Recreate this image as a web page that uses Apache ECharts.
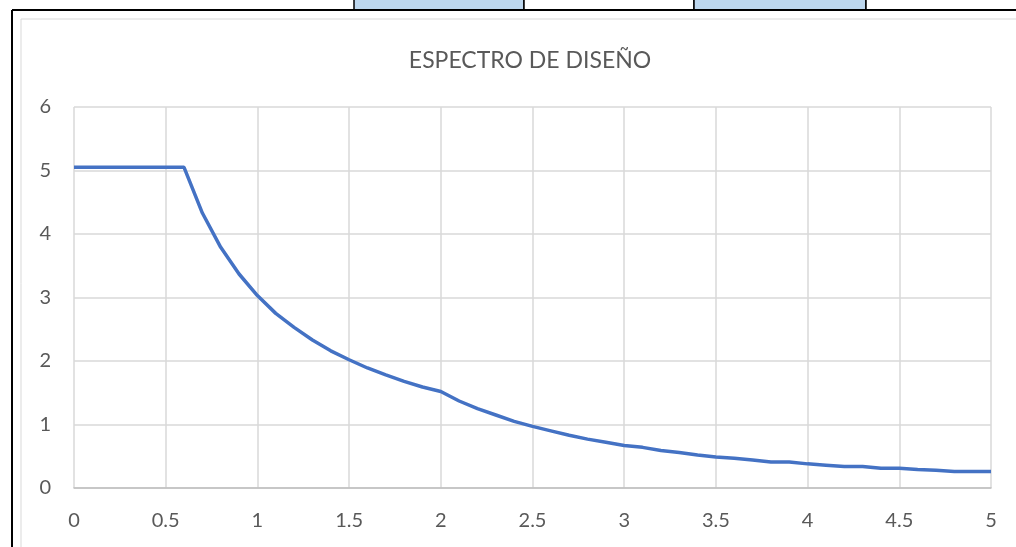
<!DOCTYPE html>
<html>
<head>
<meta charset="utf-8">
<script src="https://cdn.jsdelivr.net/npm/echarts@6/dist/echarts.min.js"></script>
<style>
html,body{margin:0;padding:0;background:#fff;}
#c{width:1016px;height:547px;}
</style>
</head>
<body>
<div id="c"></div>
<script>
const title = 'ESPECTRO DE DISEÑO';
const periods = [0,0.1,0.2,0.3,0.4,0.5,0.6,0.7,0.8,0.9,1.0,1.1,1.2,1.3,1.4,1.5,1.6,1.7,1.8,1.9,2.0,
  2.1,2.2,2.3,2.4,2.5,2.6,2.7,2.8,2.9,3.0,3.1,3.2,3.3,3.4,3.5,3.6,3.7,3.8,3.9,4.0,
  4.1,4.2,4.3,4.4,4.5,4.6,4.7,4.8,4.9,5.0];
const sa = [5.05,5.05,5.05,5.05,5.05,5.05,5.05,4.33,3.79,3.37,3.03,2.75,2.53,2.33,2.16,2.02,1.89,1.78,1.68,1.59,1.52,
  1.37,1.25,1.15,1.05,0.97,0.90,0.83,0.77,0.72,0.67,0.64,0.59,0.56,0.52,0.49,0.47,0.44,0.41,0.41,0.38,
  0.36,0.34,0.34,0.31,0.31,0.29,0.28,0.26,0.26,0.26];
const xTicks = {min:0, max:5, step:0.5};
const yTicks = {min:0, max:6, step:1};

const chart = echarts.init(document.getElementById('c'), null, {renderer:'canvas'});
const font = 'Lato, "Open Sans", "Noto Sans", sans-serif';
const lblColor = '#595959';
chart.setOption({
  animation:false,
  backgroundColor:'#fff',
  title:{
    text:title, left:525, top:44, textAlign:'center',
    textStyle:{fontFamily:font, fontSize:23, fontWeight:'normal', color:lblColor}
  },
  grid:{left:74, right:25, top:107, bottom:59, containLabel:false},
  xAxis:{
    type:'value', min:xTicks.min, max:xTicks.max, interval:xTicks.step,
    axisLine:{show:true, lineStyle:{color:'#BFBFBF', width:1.5}},
    axisTick:{show:false},
    splitLine:{show:true, lineStyle:{color:'#D9D9D9', width:1.5}},
    axisLabel:{fontFamily:font, fontSize:20, color:lblColor, margin:23}
  },
  yAxis:{
    type:'value', min:yTicks.min, max:yTicks.max, interval:yTicks.step,
    axisLine:{show:false}, axisTick:{show:false},
    splitLine:{show:true, lineStyle:{color:'#D9D9D9', width:1.5}},
    axisLabel:{fontFamily:font, fontSize:20, color:lblColor, margin:23}
  },
  series:[{
    type:'line', data:periods.map((t,i)=>[t, sa[i]]),
    showSymbol:false, symbol:'none', smooth:false,
    lineStyle:{color:'#4472C4', width:3.5}
  }],
  graphic:[
    {type:'rect', shape:{x:354, y:-2, width:170, height:12}, style:{fill:'#BDD7EE', stroke:'#000', lineWidth:1.5}, z:10},
    {type:'rect', shape:{x:524, y:-2, width:170, height:12}, style:{fill:'#fff', stroke:'#000', lineWidth:1.5}, z:10},
    {type:'rect', shape:{x:694, y:-2, width:172, height:12}, style:{fill:'#BDD7EE', stroke:'#000', lineWidth:1.5}, z:10},
    {type:'rect', shape:{x:866, y:-2, width:160, height:12}, style:{fill:'#fff', stroke:'#000', lineWidth:1.5}, z:10},
    {type:'line', shape:{x1:12, y1:10, x2:1016, y2:10}, style:{stroke:'#000', lineWidth:2}, z:11},
    {type:'line', shape:{x1:12, y1:10, x2:12, y2:547}, style:{stroke:'#000', lineWidth:2}, z:11},
    {type:'rect', shape:{x:21, y:19, width:1010, height:540}, style:{fill:'none', stroke:'#D9D9D9', lineWidth:1}, z:11}
  ]
});
</script>
</body>
</html>
